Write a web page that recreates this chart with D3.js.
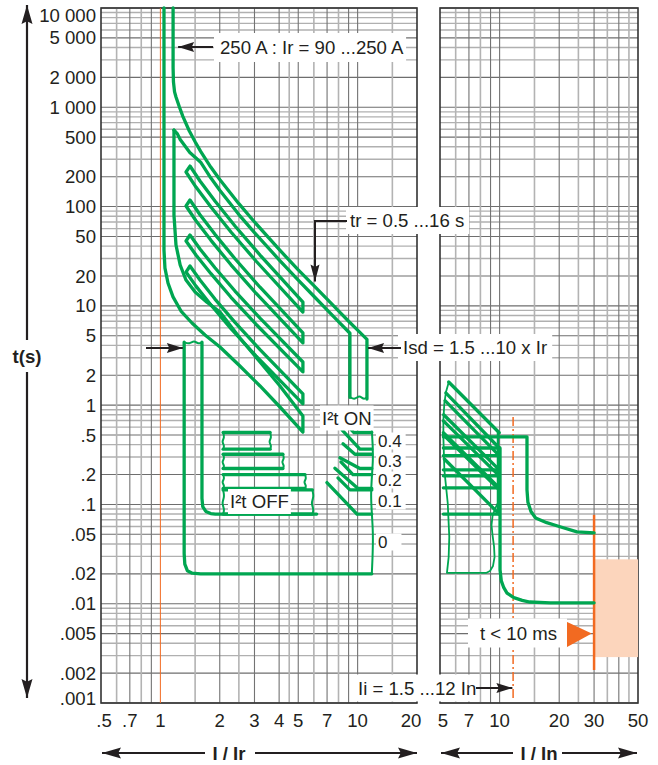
<!DOCTYPE html>
<html><head><meta charset="utf-8">
<script src="https://d3js.org/d3.v7.min.js"></script>
<style>
html,body{margin:0;padding:0;background:#fff;}
svg{display:block;}
text{font-family:"Liberation Sans",Arial,Helvetica,sans-serif;fill:#231f20;}
</style></head><body>
<svg id="chart" width="658" height="765"></svg>
<script>
// ---------------- data ----------------
const yTickValues=[10000,5000,2000,1000,500,200,100,50,20,10,5,2,1,0.5,0.2,0.1,0.05,0.02,0.01,0.005,0.002,0.001];
const yTickLabels=["10 000","5 000","2 000","1 000","500","200","100","50","20","10","5","2","1",".5",".2",".1",".05",".02",".01",".005",".002",".001"];
const xTickLeft=[0.5,0.7,1,2,3,4,5,7,10,20];
const xTickLeftLabels=[".5",".7","1","2","3","4","5","7","10","20"];
const xTickRight=[5,7,10,20,30,50];
const xTickRightLabels=["5","7","10","20","30","50"];
const xGridLeft=[0.6,0.7,0.8,0.9,1.5,2,2.5,3,4,4.5,5,6,7,8,9,10,15];
const xGridLeftDark=[0.7,0.9,2,3,4,5,7,9,10];
const xGridRight=[6,7,8,9,10,15,20,25,30,35,40,45];
const xGridRightDark=[7,9,10,20,30,40];
const decades=[0.001,0.01,0.1,1,10,100,1000];
const mults=[1,2,3,4,5,6,7,8,9];
const darkMults=[1,2,5];

// long time (I/Ir , t)
const tr16Upper=[[1.16,10000],[1.16,2500],[1.165,1800],[1.18,1430],[1.2,1270],[1.25,1000],[1.3,810],[1.4,580],[1.5,450],[1.6,360],[1.8,250],[2,187],[2.5,107],[3,70],[4,37],[5,23],[6,16],[7,11.7],[8,8.9],[9,7],[10,5.7],[11.15,4.6],[11.15,1.15]];
const tr16Lower=[[1.172,590],[1.22,540],[1.26,473],[1.41,350],[1.6,280],[1.8,195],[2,146],[2.5,83],[3,54.6],[4,29.1],[5,18.2],[6,12.5],[7,9.1],[8,6.93],[9.14,5.3],[9.14,1.2]];
const isd10Bottom=[[9.14,1.2],[11.15,1.15]];
const bandUpperI=[1.413,1.588,1.891,2.389,3.2,5.28];
const bandLowerI=[1.349,1.515,1.805,2.28,3.052,5.28];
const tr8Upper=[256,180.8,113.7,63.7,32.5,10.93];
const tr8Lower=[222.8,157.3,98.97,55.4,28.3,8.67];
const tr4Upper=[116.4,82.8,52.5,29.8,15.4,5.33];
const tr4Lower=[101.3,72.0,45.7,25.9,13.4,4.23];
const tr2Upper=[51.7,37.4,24.2,14.1,7.51,2.72];
const tr2Lower=[45.0,32.5,21.1,12.2,6.53,2.16];
const tr1Upper=[25.2,18.2,11.7,6.81,3.62,1.30];
const tr1Lower=[21.9,15.8,10.2,5.90,3.13,1.03];
const tr05Upper=[[1.172,590],[1.172,82.2],[1.2,41.0],[1.26,25.8],[1.349,18.2],[1.5,13.8],[1.722,10.9],[2.005,8.67],[2.53,4.74],[3.2,2.72],[4.04,1.56],[5.28,0.777]];
const tr05Lower=[[1.043,10000],[1.043,36.5],[1.055,24.0],[1.093,17.0],[1.159,12.3],[1.272,8.87],[1.446,6.72],[1.684,5.09],[2.005,3.85],[2.53,2.48],[3.2,1.56],[4.04,0.958],[5.28,0.536]];

// short time / instantaneous (I/Ir , t)
const isdLowCurve=[[1.32,4.3],[1.32,0.032],[1.33,0.025],[1.37,0.0215],[1.45,0.0203],[1.6,0.02],[11.8,0.02]];
const isdHighCurve=[[1.625,4.3],[1.625,0.115],[1.64,0.095],[1.7,0.085],[1.8,0.081],[1.9,0.08],[6.2,0.08]];
const isdTop=[[1.32,4.3],[1.625,4.3]];
const instRight=[[11.8,0.02],[11.8,0.55]];
const offBandTop=[0.53,0.32,0.20,0.14];
const offBandBottom=[0.36,0.23,0.145,0.08];
const offBandLeft=[2.08,2.08,2.08,2.08];
const offBandRight=[3.6,4.18,5.41,5.9];
const bandLabels=["0.4","0.3","0.2","0.1","0"];
const bandLabelT=[0.45,0.283,0.185,0.115,0.045];
const onTopLines=[[[8.62,0.66],[9.58,0.53],[11.8,0.53]],[[8.43,0.408],[9.69,0.32],[11.8,0.32]],[[8.23,0.268],[9.47,0.2],[11.8,0.2]],[[7.95,0.185],[9.14,0.14],[11.8,0.14]]];
const onBottomLines=[[[8.33,0.565],[10.27,0.36],[11.8,0.36]],[[8.13,0.295],[10.27,0.23],[11.8,0.23]],[[7.67,0.232],[10.04,0.145],[11.8,0.145]],[[6.99,0.166],[9.92,0.08],[11.8,0.08]]];

// right panel (I/In , t)
const rOuter=[[5.53,1.69],[5.36,1.356],[5.26,1.05],[5.2,0.708],[5.2,0.478],[5.26,0.222],[5.47,0.1033],[5.57,0.047],[5.53,0.0295],[5.42,0.0204],[8.54,0.0204],[8.94,0.02135],[9.26,0.024],[9.43,0.0295],[9.37,0.0381],[9.21,0.0492],[9.1,0.062],[9.21,0.0764],[9.48,0.0899],[9.78,0.1033],[9.78,0.524]];
const rDiagStart=[[5.53,1.71],[5.35,1.33],[5.3,1.11],[5.22,0.80],[5.2,0.695],[5.2,0.527],[5.2,0.502],[5.26,0.287]];
const rDiagEnd=[[9.96,0.527],[9.96,0.37],[9.96,0.31],[9.96,0.223],[9.96,0.194],[9.96,0.147],[9.96,0.14],[9.96,0.08]];
const rHoriz=[0.37,0.31,0.223,0.194,0.147,0.08];
const rCurveA=[[5.2,0.48],[13.75,0.48],[13.75,0.14],[13.9,0.105],[14.4,0.085],[15.2,0.073],[17.3,0.0655],[20,0.06],[24.6,0.053],[30,0.0517]];
const rCurveB=[[10.05,0.37],[10.05,0.022],[10.2,0.017],[10.5,0.0145],[10.9,0.0128],[11.8,0.0115],[13,0.0108],[14.2,0.0104],[18,0.0102],[30,0.0102]];
const rThinVert=[[9.82,0.53],[9.82,0.08]];
const iiLine=[[11.7,0.76],[11.7,0.00105]];
const limitLine=[[30,0.0785],[30,0.00215]];
const limitZone=[[30,0.028],[50,0.0029]];
const msTriangle=[[21.8,0.0066],[21.8,0.00364],[29.2,0.0050]];

// ---------------- drawing ----------------
const svg=d3.select("#chart");
const xL=d3.scaleLog().domain([0.5,20]).range([101,417]);
const xR=d3.scaleLog().domain([5,50]).range([440,638]);
const y=d3.scaleLog().domain([0.001,10000]).range([703,8]);
const GREEN="#00a651", ORANGE="#f26a21";
const yTop=y(10000), yBot=y(0.001);
const FS=18.6;

const grid=svg.append("g");
const hVals=[];decades.forEach(d=>mults.forEach(m=>hVals.push({v:d*m,dark:darkMults.includes(m)})));
hVals.push({v:10000,dark:true});
[[xL,0.5,20],[xR,5,50]].forEach(([xs,a,b])=>{
  grid.selectAll(null).data(hVals).enter().append("line")
    .attr("x1",xs(a)).attr("x2",xs(b)).attr("y1",d=>y(d.v)).attr("y2",d=>y(d.v))
    .attr("stroke",d=>d.dark?"#6e6e6e":"#b0b0b0").attr("stroke-width",d=>d.dark?1.1:1.4);
});
grid.selectAll(null).data(xGridLeft).enter().append("line")
  .attr("x1",d=>xL(d)).attr("x2",d=>xL(d)).attr("y1",yTop).attr("y2",yBot)
  .attr("stroke",d=>xGridLeftDark.includes(d)?"#737373":"#b3b3b3").attr("stroke-width",d=>xGridLeftDark.includes(d)?1.1:1.6);
grid.selectAll(null).data(xGridRight).enter().append("line")
  .attr("x1",d=>xR(d)).attr("x2",d=>xR(d)).attr("y1",yTop).attr("y2",yBot)
  .attr("stroke",d=>xGridRightDark.includes(d)?"#737373":"#b3b3b3").attr("stroke-width",d=>xGridRightDark.includes(d)?1.1:1.6);

svg.append("rect").attr("x",xL(0.5)).attr("y",yTop).attr("width",xL(20)-xL(0.5)).attr("height",yBot-yTop).attr("fill","none").attr("stroke","#333").attr("stroke-width",1.6);
svg.append("rect").attr("x",xR(5)).attr("y",yTop).attr("width",xR(50)-xR(5)).attr("height",yBot-yTop).attr("fill","none").attr("stroke","#333").attr("stroke-width",1.6);

svg.append("line").attr("x1",xL(1)).attr("x2",xL(1)).attr("y1",yTop).attr("y2",yBot).attr("stroke",ORANGE).attr("stroke-width",1);
svg.append("rect").attr("x",xR(limitZone[0][0])).attr("y",y(limitZone[0][1]))
  .attr("width",xR(limitZone[1][0])-xR(limitZone[0][0])).attr("height",y(limitZone[1][1])-y(limitZone[0][1])).attr("fill","#fcd5bc");
svg.append("line").attr("x1",xR(iiLine[0][0])).attr("x2",xR(iiLine[1][0])).attr("y1",y(iiLine[0][1])).attr("y2",y(iiLine[1][1]))
  .attr("stroke",ORANGE).attr("stroke-width",1.5).attr("stroke-dasharray","9,3,2,3");
svg.append("line").attr("x1",xR(limitLine[0][0])).attr("x2",xR(limitLine[1][0])).attr("y1",y(limitLine[0][1])).attr("y2",y(limitLine[1][1]))
  .attr("stroke",ORANGE).attr("stroke-width",2.5);

const gL=svg.append("g").attr("fill","none").attr("stroke",GREEN).attr("stroke-linejoin","round").attr("stroke-linecap","round");
const lineL=d3.line().x(d=>xL(d[0])).y(d=>y(d[1]));
const lineR=d3.line().x(d=>xR(d[0])).y(d=>y(d[1]));
const W=3.3, WT=1.8;
function wavyV(x,y1,y2,a){const h=y2-y1;return d3.line().curve(d3.curveBasis)([[x,y1],[x+a,y1+h*0.3],[x-a,y1+h*0.55],[x+a,y1+h*0.8],[x,y2]]);}
function wavyH(x1,x2,yy,a){const w=x2-x1;return d3.line().curve(d3.curveBasis)([[x1,yy],[x1+w*0.3,yy+a],[x1+w*0.55,yy-a],[x1+w*0.8,yy+a],[x2,yy]]);}

gL.append("path").attr("d",lineL(tr16Upper)).attr("stroke-width",W);
gL.append("path").attr("d",lineL(tr16Lower)).attr("stroke-width",W);
gL.append("path").attr("d",wavyH(xL(isd10Bottom[0][0]),xL(isd10Bottom[1][0]),y(isd10Bottom[0][1]),2.5)).attr("stroke-width",2);
[[tr8Upper,tr8Lower],[tr4Upper,tr4Lower],[tr2Upper,tr2Lower],[tr1Upper,tr1Lower]].forEach(([u,l])=>{
  const up=u.map((t,i)=>[bandUpperI[i],t]), lo=l.map((t,i)=>[bandLowerI[i],t]);
  gL.append("path").attr("d",lineL(up.concat(lo.reverse()))+"Z").attr("stroke-width",W);
});
gL.append("path").attr("d",lineL(tr05Lower.concat(tr05Upper.slice().reverse()))).attr("stroke-width",W);

gL.append("path").attr("d",lineL(isdLowCurve)).attr("stroke-width",W);
gL.append("path").attr("d",lineL(isdHighCurve)).attr("stroke-width",W);
gL.append("path").attr("d",wavyH(xL(isdTop[0][0]),xL(isdTop[1][0]),y(isdTop[0][1]),2)).attr("stroke-width",2);
gL.append("path").attr("d",wavyV(xL(instRight[0][0]),y(instRight[0][1]),y(instRight[1][1]),2)).attr("stroke-width",2);
offBandTop.forEach((tt,i)=>{
  const tb=offBandBottom[i], a=offBandLeft[i], b=offBandRight[i];
  gL.append("path").attr("d",lineL([[a,tt],[b,tt]])).attr("stroke-width",W);
  gL.append("path").attr("d",lineL([[a,tb],[b,tb]])).attr("stroke-width",W);
  gL.append("path").attr("d",wavyV(xL(b),y(tt),y(tb),1.5)).attr("stroke-width",2);
  gL.append("path").attr("d",wavyV(xL(a),y(tt),y(tb),1.5)).attr("stroke-width",2);
});
onTopLines.forEach(l=>gL.append("path").attr("d",lineL(l)).attr("stroke-width",W));
onBottomLines.forEach(l=>gL.append("path").attr("d",lineL(l)).attr("stroke-width",W));

gL.append("path").attr("d",lineR(rOuter)).attr("stroke-width",WT);
rDiagStart.forEach((s,i)=>gL.append("path").attr("d",lineR([s,rDiagEnd[i]])).attr("stroke-width",W));
rHoriz.forEach(t=>gL.append("path").attr("d",lineR([[5.2,t],[9.96,t]])).attr("stroke-width",W));
gL.append("path").attr("d",lineR(rThinVert)).attr("stroke-width",2.2);
gL.append("path").attr("d",lineR(rCurveA)).attr("stroke-width",W);
gL.append("path").attr("d",lineR(rCurveB)).attr("stroke-width",W);

svg.append("path").attr("d",lineR(msTriangle)+"Z").attr("fill",ORANGE);

// ---------------- labels ----------------
const lab=svg.append("g");
function label(x,yb,str,opt={}){
  const t=lab.append("text").attr("x",x).attr("y",yb).text(str).attr("font-size",opt.size||FS)
     .attr("text-anchor",opt.anchor||"start").attr("font-weight",opt.bold?"bold":"normal");
  if(opt.box){const bb=t.node().getBBox();const p=opt.box;
    lab.insert("rect",()=>t.node()).attr("x",bb.x-p[0]).attr("y",bb.y-p[1]).attr("width",bb.width+p[0]+p[2]).attr("height",bb.height+p[1]*2).attr("fill","#fff");}
  return t;
}
yTickValues.forEach((v,i)=>{
  const cy=Math.min(Math.max(y(v),15.5),698);
  label(96,cy+6.6,yTickLabels[i],{anchor:"end"});
});
xTickLeft.forEach((v,i)=>label(Math.min(Math.max(xL(v),104),411),727,xTickLeftLabels[i],{anchor:"middle"}));
xTickRight.forEach((v,i)=>label(Math.max(xR(v),443),727,xTickRightLabels[i],{anchor:"middle"}));

label(220,54,"250 A : Ir = 90 ...250 A",{box:[6,4,2]});
label(350,227,"tr = 0.5 ...16 s",{box:[4,3,5]});
label(403,354,"Isd = 1.5 ...10 x Ir",{box:[5,3,5]});
label(322,424.5,"I²t ON",{box:[2,2,2]});
label(230,508,"I²t OFF",{box:[2,2,2]});
// setting labels beside the short-time bands
const bandLabelY=[440.5,460.5,479.5,500.5,541.5];
bandLabels.forEach((s,i)=>label(378,bandLabelY[i]+6,s,{size:17,box:[2,-1,i===4?14:4]}));
label(480,639.5,"t < 10 ms",{box:[12,4,10]});
label(358,694.5,"Ii = 1.5 ...12 In",{box:[3,3,3]});
label(27,363,"t(s)",{anchor:"middle",bold:true,box:[2,5,2]});
label(229,760,"I / Ir",{anchor:"middle",bold:true});
label(539,760,"I / In",{anchor:"middle",bold:true});

// ---------------- arrows ----------------
const ag=svg.append("g");
function arrow(pts,len,hw,sw){
  ag.append("path").attr("d",d3.line()(pts)).attr("fill","none").attr("stroke","#231f20").attr("stroke-width",sw);
  const [x1,y1]=pts[pts.length-2],[x2,y2]=pts[pts.length-1];
  const a=Math.atan2(y2-y1,x2-x1),c=Math.cos(a),s=Math.sin(a);
  const bx=x2-c*len,by=y2-s*len;
  ag.append("path").attr("d",`M${x2},${y2}L${bx-s*hw},${by+c*hw}L${bx+c*len*0.15},${by+s*len*0.15}L${bx+s*hw},${by-c*hw}Z`).attr("fill","#231f20");
}
arrow([[213,47],[xL(1.23),47]],16,5,2);
arrow([[347,221],[315,221],[315,y(17.6)]],17,4.5,2);
arrow([[401,348],[xL(11.3),348]],16,5,2);
arrow([[146,348],[xL(1.3),348]],16,5,2);
arrow([[476,688],[xR(11.6),688]],16,5,2);
arrow([[27,340],[27,5]],19,5.5,2.2);
arrow([[27,372],[27,698]],19,5.5,2.2);
arrow([[205,753],[102,753]],19,5.5,2.2);
arrow([[255,753],[417,753]],19,5.5,2.2);
arrow([[513,753],[441,753]],19,5.5,2.2);
arrow([[562,753],[637,753]],19,5.5,2.2);
</script></body></html>
